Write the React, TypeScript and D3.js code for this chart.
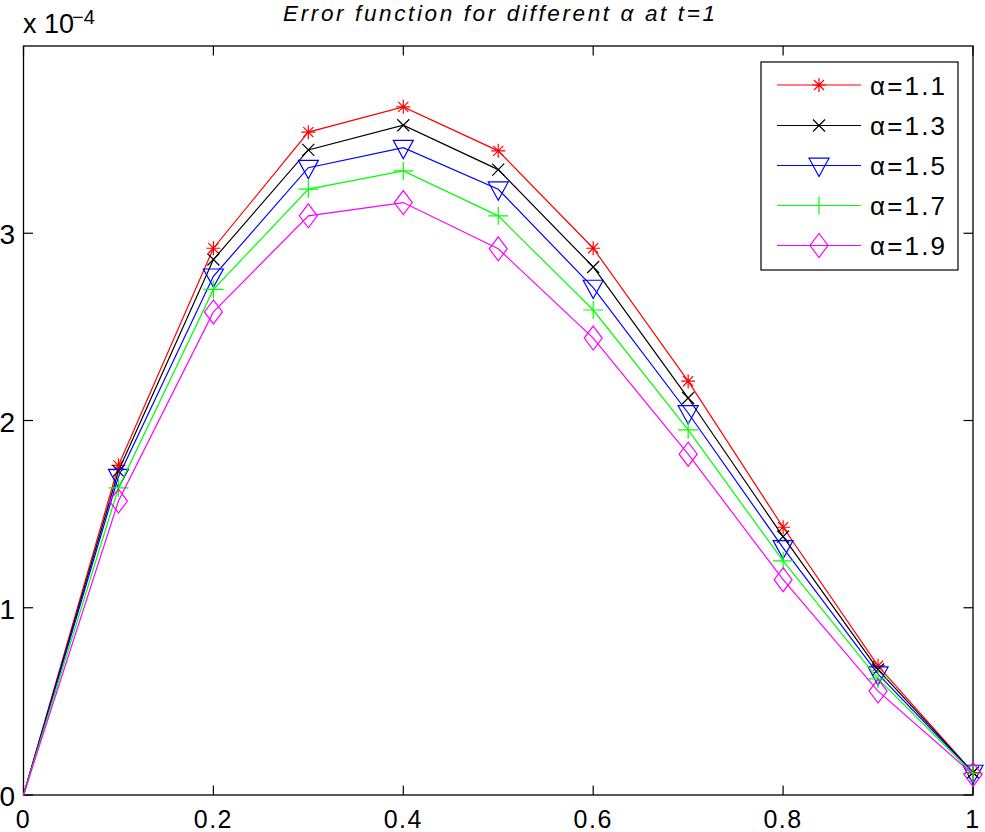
import React from "react";
import * as d3 from "d3";

const xValues = [0, 0.1, 0.2, 0.3, 0.4, 0.5, 0.6, 0.7, 0.8, 0.9, 1.0];
const alpha11 = [0, 1.76, 2.92, 3.54, 3.675, 3.44, 2.92, 2.21, 1.43, 0.69, 0.12];
const alpha13 = [0, 1.73, 2.86, 3.445, 3.577, 3.34, 2.82, 2.12, 1.38, 0.67, 0.12];
const alpha15 = [0, 1.70, 2.77, 3.35, 3.457, 3.235, 2.71, 2.04, 1.32, 0.645, 0.12];
const alpha17 = [0, 1.64, 2.70, 3.236, 3.333, 3.093, 2.59, 1.95, 1.25, 0.62, 0.115];
const alpha19 = [0, 1.57, 2.58, 3.093, 3.164, 2.917, 2.44, 1.82, 1.15, 0.555, 0.11];
const seriesLabels = ["α=1.1", "α=1.3", "α=1.5", "α=1.7", "α=1.9"];
const seriesColors = ["#ff0000", "#000000", "#0000ff", "#00ff00", "#ff00ff"];
const seriesMarkers = ["star", "x", "triangle", "plus", "diamond"];
const xTicks = [0, 0.2, 0.4, 0.6, 0.8, 1];
const yTicks = [0, 1, 2, 3];

const W = 985, H = 832;
const M = { left: 23.5, right: 973, top: 46, bottom: 795 };
const FONT = "'Liberation Sans', Arial, Helvetica, sans-serif";

function markerPath(type: string): string {
  switch (type) {
    case "star": {
      const r = 7, d = r * 0.72;
      return `M0,${-r}V${r}M${-r},0H${r}M${-d},${-d}L${d},${d}M${-d},${d}L${d},${-d}`;
    }
    case "x": {
      const r = 6;
      return `M${-r},${-r}L${r},${r}M${-r},${r}L${r},${-r}`;
    }
    case "triangle":
      return `M-10,-7.3H10L0,11Z`;
    case "plus":
      return `M0,-9V9M-10,0H10`;
    case "diamond":
      return `M0,-12L9,0L0,12L-9,0Z`;
  }
  return "";
}

export default function App() {
  const x = d3.scaleLinear().domain([0, 1]).range([M.left, M.right]);
  const y = d3.scaleLinear().domain([0, 4]).range([M.bottom, M.top]);
  const all = [alpha11, alpha13, alpha15, alpha17, alpha19];
  const line = d3
    .line<number>()
    .x((_, i) => x(xValues[i]))
    .y((v) => y(v));
  const tickLen = 9.5;
  const legend = { x0: 761, y0: 62, x1: 958, y1: 270 };
  const legendRows = [85, 125.5, 165.5, 205.5, 245.5];
  return (
    <div style={{ position: "absolute", left: 0, top: 0 }}>
      <svg width={W} height={H} style={{ display: "block", background: "#fff" }} fontFamily={FONT}>
        <rect x={0} y={0} width={W} height={H} fill="#fff" />
        <rect x={M.left} y={M.top} width={M.right - M.left} height={M.bottom - M.top} fill="none" stroke="#000" strokeWidth={1.3} />
        {xTicks.map((t) => (
          <g key={"xt" + t}>
            <line x1={x(t)} x2={x(t)} y1={M.bottom} y2={M.bottom - tickLen} stroke="#000" strokeWidth={1.2} />
            <line x1={x(t)} x2={x(t)} y1={M.top} y2={M.top + tickLen} stroke="#000" strokeWidth={1.2} />
            <text x={x(t)} y={828} fontSize={25} letterSpacing={1.5} textAnchor="middle" fill="#000">{String(t)}</text>
          </g>
        ))}
        {yTicks.map((t) => (
          <g key={"yt" + t}>
            <line x1={M.left} x2={M.left + tickLen} y1={y(t)} y2={y(t)} stroke="#000" strokeWidth={1.2} />
            <line x1={M.right} x2={M.right - tickLen} y1={y(t)} y2={y(t)} stroke="#000" strokeWidth={1.2} />
            <text x={15} y={y(t) + 11} fontSize={28} textAnchor="end" fill="#000">{String(t)}</text>
          </g>
        ))}
        <text x={23} y={33} fontSize={27} fill="#000">x 10</text>
        <text x={72} y={24} fontSize={20} fill="#000">−4</text>
        <text x={283} y={21} fontSize={22.5} fontStyle="italic" textLength={432} lengthAdjust="spacing" fill="#000">
          Error function for different α at t=1
        </text>
        {all.map((s, k) => (
          <g key={"s" + k}>
            <path d={line(s) || ""} fill="none" stroke={seriesColors[k]} strokeWidth={1.2} />
            {s.map((v, i) =>
              xValues[i] === 0 ? null : (
                <path
                  key={i}
                  d={markerPath(seriesMarkers[k])}
                  transform={`translate(${x(xValues[i])},${y(v)})`}
                  fill="none"
                  stroke={seriesColors[k]}
                  strokeWidth={1.2}
                />
              )
            )}
          </g>
        ))}
        <rect x={legend.x0} y={legend.y0} width={legend.x1 - legend.x0} height={legend.y1 - legend.y0} fill="#fff" stroke="#000" strokeWidth={1.2} />
        {seriesLabels.map((lab, k) => (
          <g key={"l" + k}>
            <line x1={777} x2={861} y1={legendRows[k]} y2={legendRows[k]} stroke={seriesColors[k]} strokeWidth={1.2} />
            <path d={markerPath(seriesMarkers[k])} transform={`translate(819,${legendRows[k]})`} fill="none" stroke={seriesColors[k]} strokeWidth={1.2} />
            <text x={870} y={legendRows[k] + 9.5} fontSize={26} textLength={75} lengthAdjust="spacing" fill="#000">{lab}</text>
          </g>
        ))}
      </svg>
    </div>
  );
}
